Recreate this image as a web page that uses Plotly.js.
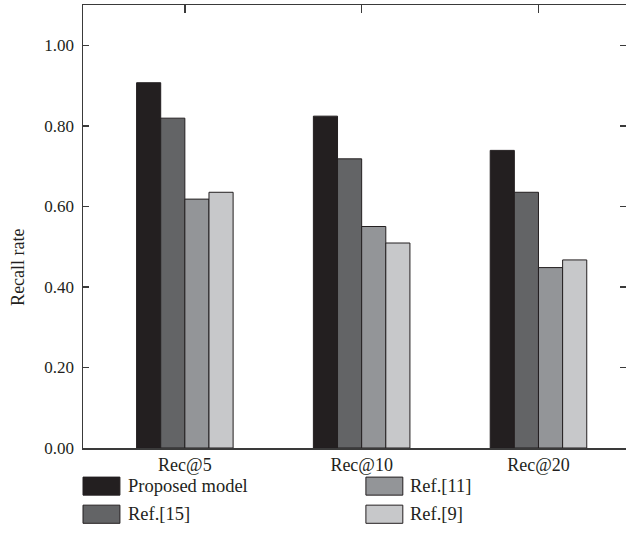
<!DOCTYPE html>
<html>
<head>
<meta charset="utf-8">
<script src="https://cdn.plot.ly/plotly-3.0.1.min.js"></script>
<style>html,body{margin:0;padding:0;background:#fff;}#chart{width:626px;height:550px;}</style>
</head>
<body>
<div id="chart"></div>
<script>
const categories = ["Rec@5", "Rec@10", "Rec@20"];
const seriesNames = ["Proposed model", "Ref.[15]", "Ref.[11]", "Ref.[9]"];
const proposedModel = [0.907, 0.824, 0.739];
const ref15 = [0.819, 0.718, 0.635];
const ref11 = [0.618, 0.550, 0.448];
const ref9 = [0.635, 0.509, 0.467];
const yTickVals = [0, 0.2, 0.4, 0.6, 0.8, 1.0];
const yTickText = ["0.00", "0.20", "0.40", "0.60", "0.80", "1.00"];
const yTitle = "Recall rate";

const seriesValues = [proposedModel, ref15, ref11, ref9];
const colors = ["#231f20", "#636466", "#939598", "#c7c8ca"];
const edge = "#231f20";
const font = "Liberation Serif, Times New Roman, serif";

const traces = seriesValues.map((vals, i) => ({
  type: "bar",
  name: seriesNames[i],
  x: categories,
  y: vals,
  marker: {color: colors[i], line: {color: edge, width: 1}},
  showlegend: false,
  hoverinfo: "skip"
}));

// manual legend (two columns, column-major order)
const dy = -0.013;
const legendPos = [
  {x0: 0.0, x1: 0.068, y0: -0.0527, y1: -0.0934, tx: 0.081, ty: -0.073},
  {x0: 0.0, x1: 0.068, y0: -0.116, y1: -0.157, tx: 0.081, ty: -0.136},
  {x0: 0.521, x1: 0.589, y0: -0.0527, y1: -0.0934, tx: 0.600, ty: -0.073},
  {x0: 0.521, x1: 0.589, y0: -0.116, y1: -0.157, tx: 0.600, ty: -0.136}
];
const shapes = legendPos.map((p, i) => ({
  type: "rect", xref: "paper", yref: "paper",
  x0: p.x0, x1: p.x1, y0: p.y0 + dy, y1: p.y1 + dy,
  fillcolor: colors[i], line: {color: edge, width: 1}
}));
const annotations = legendPos.map((p, i) => ({
  xref: "paper", yref: "paper", x: p.tx, y: p.ty + dy,
  xanchor: "left", yanchor: "middle", showarrow: false, borderpad: 0,
  text: seriesNames[i], font: {family: font, size: 18.5, color: edge}
}));
annotations.push({
  xref: "paper", yref: "paper", x: -0.1197, y: 0.4066,
  xanchor: "center", yanchor: "middle", showarrow: false, textangle: -90,
  text: yTitle, font: {family: font, size: 18, color: edge}
});

const layout = {
  width: 626, height: 550,
  margin: {l: 83, r: 0, t: 5, b: 102},
  paper_bgcolor: "#fff", plot_bgcolor: "#fff",
  font: {family: font, color: edge},
  barmode: "group", bargap: 0.454, bargroupgap: 0,
  xaxis: {
    type: "category",
    range: [-0.576, 2.495],
    showline: true, linecolor: "#3a3a3a", linewidth: 1.5, mirror: "ticks",
    ticks: "inside", ticklen: 8, tickcolor: "#3a3a3a", tickwidth: 1.5,
    layer: "below traces",
    showgrid: false, zeroline: false,
    tickfont: {family: font, size: 18, color: edge}
  },
  yaxis: {
    range: [0, 1.1],
    tickvals: yTickVals, ticktext: yTickText,
    showline: true, linecolor: "#3a3a3a", linewidth: 1.5, mirror: "ticks",
    ticks: "inside", ticklen: 6, tickcolor: "#3a3a3a", tickwidth: 1.5,
    ticklabelstandoff: 4,
    showgrid: false, zeroline: false,
    tickfont: {family: font, size: 17, color: edge}
  },
  shapes: shapes,
  annotations: annotations,
  showlegend: false
};

Plotly.newPlot("chart", traces, layout, {displayModeBar: false, staticPlot: true});
</script>
</body>
</html>
